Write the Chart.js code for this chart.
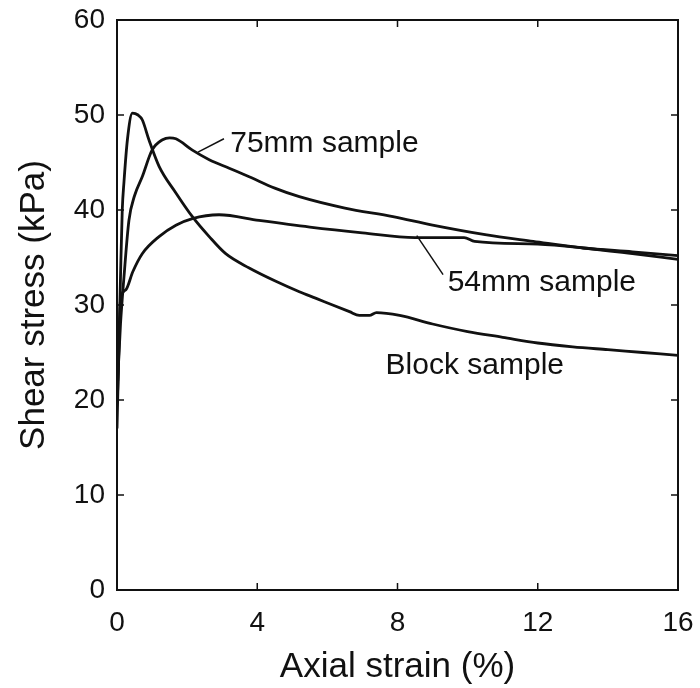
<!DOCTYPE html>
<html>
<head>
<meta charset="utf-8">
<script src="https://cdn.jsdelivr.net/npm/chart.js@4.4.1/dist/chart.umd.min.js"></script>
<style>
  html, body { margin: 0; padding: 0; background: #fff; }
  #wrap { width: 700px; height: 688px; }
</style>
</head>
<body>
<div id="wrap"><canvas id="graficaCorte"></canvas></div>
<script>
// datos (deformacion axial %, tension de corte kPa)
const xTicks = [0, 4, 8, 12, 16];
const yTicks = [0, 10, 20, 30, 40, 50, 60];

const strainBlock = [0, 0.05, 0.1, 0.15, 0.2, 0.3, 0.44, 0.6, 0.72, 0.91, 1.2, 1.68, 2.15, 2.63, 3.1, 3.77, 4.53, 5.2, 5.68, 6.15, 6.63, 6.91, 7.2, 7.4, 8.06, 9.0, 10.0, 11.0, 12.0, 13.0, 14.0, 15.0, 16.0];
const stressBlock = [17, 25, 33, 40, 43, 47.5, 50.2, 50.0, 49.5, 47.4, 44.6, 41.8, 39.3, 37.2, 35.4, 33.9, 32.5, 31.4, 30.7, 30.0, 29.3, 28.9, 28.9, 29.2, 28.9, 28.0, 27.2, 26.6, 26.0, 25.6, 25.3, 25.0, 24.7];

const strain75 = [0.02, 0.1, 0.2, 0.34, 0.5, 0.72, 1.0, 1.3, 1.5, 1.68, 2.15, 2.63, 3.2, 3.77, 4.5, 5.2, 6.5, 7.87, 9.0, 10.5, 11.87, 13.3, 14.7, 16.0];
const stress75 = [22, 28, 33, 38.9, 41.5, 43.5, 46.3, 47.4, 47.6, 47.5, 46.3, 45.3, 44.4, 43.5, 42.3, 41.4, 40.2, 39.3, 38.4, 37.4, 36.7, 36.0, 35.6, 35.2];

const strain54 = [0.02, 0.1, 0.25, 0.45, 0.72, 1.2, 1.68, 2.15, 2.91, 4.05, 5.5, 7.0, 8.5, 9.9, 10.2, 12.0, 13.3, 14.7, 16.0];
const stress54 = [21, 30.5, 31.6, 33.5, 35.4, 37.2, 38.4, 39.1, 39.5, 38.9, 38.2, 37.6, 37.1, 37.1, 36.7, 36.4, 36.0, 35.4, 34.8];

// etiquetas dentro del grafico, en unidades de los ejes
const etiquetas = [
  { texto: "75mm sample", x: 3.23, y: 47.0, desde: [2.31, 46.1], hasta: [3.05, 47.5] },
  { texto: "54mm sample", x: 9.43, y: 32.3, desde: [8.55, 37.3], hasta: [9.3, 33.2] },
  { texto: "Block sample", x: 7.66, y: 23.6, desde: null, hasta: null }
];

function puntos(xs, ys) {
  return xs.map((x, i) => ({ x: x, y: ys[i] }));
}

const fuente = "'Liberation Sans', Arial, Helvetica, sans-serif";

const marcoPlugin = {
  id: "marco",
  afterDraw(chart) {
    const ctx = chart.ctx;
    const a = chart.chartArea;
    const sx = chart.scales.x;
    const sy = chart.scales.y;
    ctx.save();
    ctx.strokeStyle = "#111";
    ctx.lineWidth = 2;
    ctx.strokeRect(a.left, a.top, a.right - a.left, a.bottom - a.top);

    // marcas hacia adentro
    ctx.lineWidth = 1.5;
    ctx.beginPath();
    xTicks.slice(1, -1).forEach(v => {
      const px = sx.getPixelForValue(v);
      ctx.moveTo(px, a.bottom); ctx.lineTo(px, a.bottom - 7);
      ctx.moveTo(px, a.top); ctx.lineTo(px, a.top + 7);
    });
    yTicks.slice(1, -1).forEach(v => {
      const py = sy.getPixelForValue(v);
      ctx.moveTo(a.left, py); ctx.lineTo(a.left + 7, py);
      ctx.moveTo(a.right, py); ctx.lineTo(a.right - 7, py);
    });
    ctx.stroke();

    // textos de las curvas
    ctx.fillStyle = "#111";
    ctx.font = "30px " + fuente;
    ctx.textBaseline = "middle";
    ctx.textAlign = "left";
    etiquetas.forEach(e => {
      ctx.fillText(e.texto, sx.getPixelForValue(e.x), sy.getPixelForValue(e.y));
      if (e.desde) {
        ctx.lineWidth = 1.5;
        ctx.beginPath();
        ctx.moveTo(sx.getPixelForValue(e.desde[0]), sy.getPixelForValue(e.desde[1]));
        ctx.lineTo(sx.getPixelForValue(e.hasta[0]), sy.getPixelForValue(e.hasta[1]));
        ctx.stroke();
      }
    });
    ctx.restore();
  }
};

function serie(xs, ys) {
  return {
    data: puntos(xs, ys),
    showLine: true,
    borderColor: "#111",
    borderWidth: 2.8,
    pointRadius: 0,
    cubicInterpolationMode: "monotone",
    fill: false
  };
}

const ctx = document.getElementById("graficaCorte").getContext("2d");
new Chart(ctx, {
  type: "scatter",
  data: {
    datasets: [
      serie(strainBlock, stressBlock),
      serie(strain75, stress75),
      serie(strain54, stress54)
    ]
  },
  options: {
    responsive: true,
    maintainAspectRatio: false,
    animation: false,
    layout: { padding: { top: 20, right: 22, left: 0, bottom: 0 } },
    plugins: {
      legend: { display: false },
      tooltip: { enabled: false }
    },
    scales: {
      x: {
        type: "linear",
        min: 0,
        max: 16,
        afterBuildTicks: s => { s.ticks = xTicks.map(v => ({ value: v })); },
        afterFit: s => {
          s.height = 98;
          s.paddingLeft = 0;
          s.paddingRight = 0;
        },
        grid: { display: false, drawTicks: false },
        border: { display: false },
        ticks: { color: "#111", font: { family: fuente, size: 28 }, padding: 16, maxRotation: 0 },
        title: {
          display: true,
          text: "Axial strain (%)",
          color: "#111",
          font: { family: fuente, size: 35 },
          padding: { top: 0, bottom: 0 }
        }
      },
      y: {
        type: "linear",
        min: 0,
        max: 60,
        afterBuildTicks: s => { s.ticks = yTicks.map(v => ({ value: v })); },
        afterFit: s => {
          s.width = 117;
          s.paddingTop = 0;
          s.paddingBottom = 0;
        },
        grid: { display: false, drawTicks: false },
        border: { display: false },
        ticks: { color: "#111", font: { family: fuente, size: 28 }, padding: 12 },
        title: {
          display: true,
          text: "Shear stress (kPa)",
          color: "#111",
          font: { family: fuente, size: 35 },
          padding: { top: 13, bottom: 0 }
        }
      }
    }
  },
  plugins: [marcoPlugin]
});
</script>
</body>
</html>
